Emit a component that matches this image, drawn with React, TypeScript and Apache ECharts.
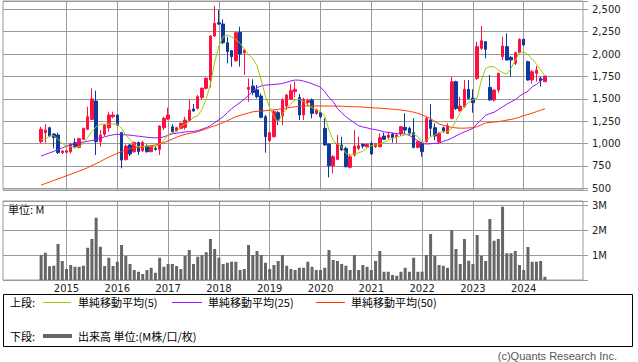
import React, { useEffect, useRef } from 'react';
import * as echarts from 'echarts';

// Monthly candles, Jul 2014 .. Jun 2024
const firstMonth = '2014-07';
const openP = [1021,1121,1177,1107,1095,898,902,909,1010,957,1047,1159,1270,1475,1021,1103,1177,1300,1319,1121,823,984,909,1013,920,972,909,946,935,1177,1274,1188,1143,1170,1180,1256,1386,1393,1516,1617,1710,2202,2350,2336,2127,2038,1926,2243,2016,1606,1643,1600,1531,1300,1032,1077,1345,1308,1419,1494,1580,1516,1319,1460,1487,1337,1345,1170,995,753,823,984,946,734,872,946,991,965,1002,965,965,1084,1069,1107,1077,1114,1181,1170,1121,957,1002,1021,1263,1177,1021,1177,1114,1282,1691,1367,1412,1606,1505,1729,2064,2139,1628,1487,1598,1971,2083,1963,1896,2016,2165,1915,1710,1785,1729,1691];
const closeP = [1159,1151,1084,1069,898,916,920,995,965,1054,1170,1300,1498,1021,1095,1207,1319,1319,1207,816,972,883,1013,909,1013,909,972,935,1196,1282,1319,1133,1177,1226,1263,1375,1364,1524,1617,1729,2202,2344,2336,2127,2027,1971,2239,2001,2045,1628,1570,1524,1293,1077,1121,1356,1263,1487,1542,1591,1606,1319,1494,1480,1337,1375,1300,984,753,853,995,928,741,853,972,976,972,991,883,995,1066,1047,1095,1069,1095,1188,1151,1114,957,1021,909,1282,1170,1084,1114,1140,1196,1691,1393,1419,1606,1505,1457,2083,2150,2053,1487,1598,1785,2090,1934,1934,2016,2165,2101,1710,1803,1822,1703,1755];
const lowP = [1002,1010,1077,946,883,883,890,890,946,946,1039,1151,1263,872,965,1084,1133,1282,1196,723,808,860,898,872,905,898,902,920,872,1151,1263,1121,1130,1159,1155,1245,1356,1382,1487,1606,1628,2194,2325,2113,1896,1859,1915,1860,1766,1468,1540,1505,1282,898,1021,1069,1207,1207,1375,1487,1516,1263,1263,1420,1282,1320,1282,976,622,667,816,920,734,723,853,928,946,955,872,950,957,1039,1047,1010,1002,1084,1114,1095,946,946,853,1010,1077,1039,1002,1120,1107,1270,1375,1356,1401,1490,1345,1710,2045,1952,1479,1468,1568,1934,1926,1747,1878,2008,2095,1703,1673,1691,1636,1691];
const highP = [1188,1218,1188,1114,1121,928,928,1010,1058,1066,1177,1412,1617,1591,1151,1218,1356,1356,1325,1133,991,995,1021,1020,1032,991,980,972,1207,1300,1401,1218,1188,1235,1300,1494,1442,1542,1628,1740,2213,2537,2493,2388,2194,2045,2250,2306,2050,1729,1718,1654,1560,1319,1133,1375,1364,1505,1554,1665,1691,1554,1512,1500,1505,1390,1356,1282,1000,872,1095,1077,965,883,1151,1077,1002,1000,1021,1005,1114,1121,1133,1121,1114,1196,1337,1188,1282,1032,1021,1300,1442,1226,1133,1190,1226,1747,1703,1524,1710,1710,1606,2139,2314,2145,1766,1606,1792,2194,2232,1978,2027,2176,2170,1926,1822,1867,1747,1755];
const ma5 = [1047,1047,1084,1088,1047,1002,972,965,957,965,1002,1069,1133,1188,1214,1218,1218,1218,1218,1170,1095,1047,984,965,965,972,972,965,995,1032,1100,1121,1133,1190,1220,1243,1295,1310,1380,1500,1660,1910,2090,2195,2213,2190,2165,2120,2055,1995,1950,1870,1710,1530,1400,1300,1240,1330,1393,1449,1487,1494,1470,1435,1400,1380,1356,1305,1150,1035,993,965,890,868,885,896,915,950,975,987,995,1015,1035,1060,1072,1086,1097,1110,1105,1077,1010,1032,1077,1095,1121,1133,1133,1170,1255,1345,1415,1460,1490,1510,1710,1840,1860,1859,1822,1792,1777,1840,1930,2020,2025,1993,1946,1887,1822,1755];
const ma25 = [861,878,895,912,935,952,970,987,998,1008,1018,1025,1035,1045,1060,1075,1088,1098,1103,1100,1097,1094,1088,1082,1077,1070,1066,1064,1065,1075,1095,1108,1116,1122,1130,1133,1135,1145,1160,1178,1200,1235,1265,1300,1345,1390,1425,1460,1495,1540,1585,1625,1645,1654,1656,1660,1665,1672,1685,1700,1710,1708,1698,1685,1667,1650,1630,1580,1515,1470,1390,1345,1300,1265,1233,1200,1185,1175,1162,1155,1145,1130,1125,1118,1110,1110,1108,1090,1062,1030,1000,995,998,1002,1005,1025,1040,1060,1085,1110,1130,1150,1170,1220,1270,1315,1335,1350,1380,1410,1440,1465,1490,1530,1560,1585,1635,1660,1700,1735];
const ma50 = [536,553,570,588,605,622,640,657,675,693,710,730,755,775,800,825,848,870,890,910,928,945,952,958,965,970,976,985,995,1010,1030,1050,1070,1090,1102,1112,1122,1133,1148,1165,1182,1198,1215,1235,1255,1278,1300,1315,1328,1342,1355,1360,1364,1367,1372,1377,1382,1390,1398,1405,1411,1416,1419,1420,1420,1420,1420,1419,1419,1419,1418,1417,1414,1412,1411,1410,1407,1404,1400,1398,1395,1392,1388,1384,1380,1375,1368,1360,1350,1338,1320,1298,1280,1245,1218,1205,1195,1180,1175,1172,1172,1175,1178,1188,1210,1230,1236,1240,1245,1253,1262,1270,1280,1295,1312,1325,1340,1356,1372,1390];
const volumeM = [1.0,1.09,0.55,0.57,1.44,0.76,0.44,0.6,0.53,0.53,0.57,1.29,1.64,2.49,1.33,0.56,0.89,0.56,0.73,1.4,0.96,0.64,0.4,0.33,0.24,0.4,0.49,0.29,0.89,0.53,0.64,0.64,0.56,0.44,0.96,1.2,0.64,0.93,1.0,1.11,1.64,1.24,0.89,0.64,0.69,0.73,0.73,0.4,0.44,1.4,1.0,1.16,1.0,0.69,0.44,0.6,0.76,1.0,0.57,0.44,0.4,0.49,0.49,0.73,0.53,0.4,0.4,0.49,1.2,0.8,0.76,0.64,0.57,0.4,1.0,0.4,0.6,0.53,0.4,0.76,1.16,0.33,0.33,0.2,0.17,0.33,0.49,0.33,0.89,0.33,0.33,1.0,1.84,0.97,0.6,0.57,0.49,2.0,1.24,0.64,1.64,0.77,0.64,1.8,0.97,0.76,2.44,1.57,1.64,2.93,1.07,1.07,1.16,0.6,0.4,1.32,0.73,0.73,0.76,0.13];

// Axis months: Oct 2013 .. Mar 2025
const axisFirstYear = 2013;
const axisFirstMonthIdx = 9; // October (0-based)
const axisMonthCount = 138;
const yearLabels = ['2015', '2016', '2017', '2018', '2019', '2020', '2021', '2022', '2023', '2024'];
const priceTickStep = 250;
const volTickStep = 1;

const legendTop = ['単純移動平均(5)', '単純移動平均(25)', '単純移動平均(50)'];
const legendBottom = '出来高 単位:(M株/口/枚)';

const categories: string[] = [];
for (let k = 0; k < axisMonthCount; k++) {
  const m = axisFirstMonthIdx + k;
  const y = axisFirstYear + Math.floor(m / 12);
  const mo = (m % 12) + 1;
  categories.push(`${y}-${String(mo).padStart(2, '0')}`);
}

export default function App() {
  const ref = useRef<HTMLDivElement>(null);
  useEffect(() => {
    if (!ref.current) return;
    const chart = echarts.init(ref.current, undefined, { renderer: 'svg' });
    const off = categories.indexOf(firstMonth);
    const pick = (arr: number[]) => categories.map((_, k) => {
      const i = k - off;
      return i >= 0 && i < arr.length ? arr[i] : '-';
    });
    const candles = categories.map((_, k) => {
      const i = k - off;
      return i >= 0 && i < openP.length ? [openP[i], closeP[i], lowP[i], highP[i]] : ['-', '-', '-', '-'];
    });
    const isYearStart = (_: number, v: string) => v.endsWith('-01') && yearLabels.includes(v.slice(0, 4));
    const grid = '#9a9a9a';
    const axisFont = 'DejaVu Sans';
    const jp = '"Noto Sans CJK JP", sans-serif';
    const option: any = {
      animation: false,
      backgroundColor: '#fff',
      textStyle: { fontFamily: axisFont },
      grid: [
        { left: 3, right: 55, top: 1, height: 189, show: true, borderColor: grid, borderWidth: 1 },
        { left: 3, right: 55, top: 201, height: 79, show: true, borderColor: grid, borderWidth: 1 },
      ],
      xAxis: [
        {
          type: 'category', gridIndex: 0, data: categories, boundaryGap: false,
          axisLine: { show: false }, axisTick: { show: false }, axisLabel: { show: false },
          splitLine: { show: true, interval: isYearStart, lineStyle: { color: grid, width: 1 } },
        },
        {
          type: 'category', gridIndex: 1, data: categories, boundaryGap: false,
          axisLine: { show: false }, axisTick: { show: false },
          axisLabel: {
            show: true, interval: isYearStart,
            formatter: (v: string) => v.slice(0, 4), color: '#222', fontSize: 10, margin: 3, fontFamily: axisFont,
          },
          splitLine: { show: true, interval: isYearStart, lineStyle: { color: grid, width: 1 } },
        },
      ],
      yAxis: [
        {
          type: 'value', gridIndex: 0, position: 'right', min: 481, max: 2593,
          minInterval: priceTickStep, maxInterval: priceTickStep, splitNumber: 8,
          axisLine: { show: false },
          axisTick: { show: true, length: 5, lineStyle: { color: grid } },
          axisLabel: {
            margin: 9, color: '#222', fontSize: 10, fontFamily: axisFont,
            formatter: (v: number) => (Math.abs(v % priceTickStep) < 1e-6 ? v.toLocaleString('en-US') : ''),
          },
          splitLine: { show: true, lineStyle: { color: grid, width: 1 } },
        },
        {
          type: 'value', gridIndex: 1, position: 'right', min: 0, max: 3.16, interval: volTickStep,
          axisLine: { show: false },
          axisTick: { show: true, length: 5, lineStyle: { color: grid } },
          axisLabel: {
            margin: 9, color: '#222', fontSize: 10, fontFamily: axisFont,
            formatter: (v: number) => (v > 0 && Math.abs(v - Math.round(v)) < 1e-6 ? `${v}M` : ''),
          },
          splitLine: { show: true, lineStyle: { color: grid, width: 1 } },
        },
      ],
      series: [
        {
          type: 'candlestick', xAxisIndex: 0, yAxisIndex: 0, data: candles, barWidth: 3, clip: false,
          itemStyle: { color: '#ff1040', color0: '#0d3a9c', borderColor: '#ff1040', borderColor0: '#0d3a9c', borderWidth: 1 },
          z: 2,
        },
        { type: 'line', xAxisIndex: 0, yAxisIndex: 0, data: pick(ma50), symbol: 'none', lineStyle: { color: '#ff3a00', width: 1 }, z: 3 },
        { type: 'line', xAxisIndex: 0, yAxisIndex: 0, data: pick(ma25), symbol: 'none', lineStyle: { color: '#9a10ff', width: 1 }, z: 3 },
        { type: 'line', xAxisIndex: 0, yAxisIndex: 0, data: pick(ma5), symbol: 'none', lineStyle: { color: '#99cc00', width: 1 }, z: 3 },
        { type: 'bar', xAxisIndex: 1, yAxisIndex: 1, data: pick(volumeM), barWidth: 3, itemStyle: { color: '#666666' } },
      ],
      graphic: [
        { type: 'text', left: 8, top: 203, style: { text: '単位: M', font: `11px ${jp}`, fill: '#111' } },
        { type: 'rect', shape: { x: 3.5, y: 294.5, width: 629, height: 52 }, style: { fill: '#fff', stroke: '#000', lineWidth: 1 } },
        { type: 'text', x: 10, y: 302, style: { text: '上段:', font: `11px ${jp}`, fill: '#000', verticalAlign: 'middle' } },
        { type: 'line', shape: { x1: 43, y1: 302.5, x2: 71, y2: 302.5 }, style: { stroke: '#99cc00', lineWidth: 1 } },
        { type: 'text', x: 78, y: 302, style: { text: legendTop[0], font: `11px ${jp}`, fill: '#000', verticalAlign: 'middle' } },
        { type: 'line', shape: { x1: 172, y1: 302.5, x2: 202, y2: 302.5 }, style: { stroke: '#9a10ff', lineWidth: 1 } },
        { type: 'text', x: 208, y: 302, style: { text: legendTop[1], font: `11px ${jp}`, fill: '#000', verticalAlign: 'middle' } },
        { type: 'line', shape: { x1: 316, y1: 302.5, x2: 345, y2: 302.5 }, style: { stroke: '#ff3a00', lineWidth: 1 } },
        { type: 'text', x: 351, y: 302, style: { text: legendTop[2], font: `11px ${jp}`, fill: '#000', verticalAlign: 'middle' } },
        { type: 'text', x: 10, y: 336, style: { text: '下段:', font: `11px ${jp}`, fill: '#000', verticalAlign: 'middle' } },
        { type: 'line', shape: { x1: 43, y1: 336, x2: 72, y2: 336 }, style: { stroke: '#666666', lineWidth: 4 } },
        { type: 'text', x: 78, y: 336, style: { text: legendBottom, font: `11px ${jp}`, fill: '#000', verticalAlign: 'middle' } },
        { type: 'text', x: 617, y: 356, style: { text: '(c)Quants Research Inc.', font: '11px "Liberation Sans", sans-serif', fill: '#555', align: 'right', verticalAlign: 'middle' } },
      ],
    };
    chart.setOption(option);
    return () => chart.dispose();
  }, []);
  return <div ref={ref} style={{ position: 'absolute', left: 0, top: 0, width: 638, height: 362, background: '#fff' }} />;
}
